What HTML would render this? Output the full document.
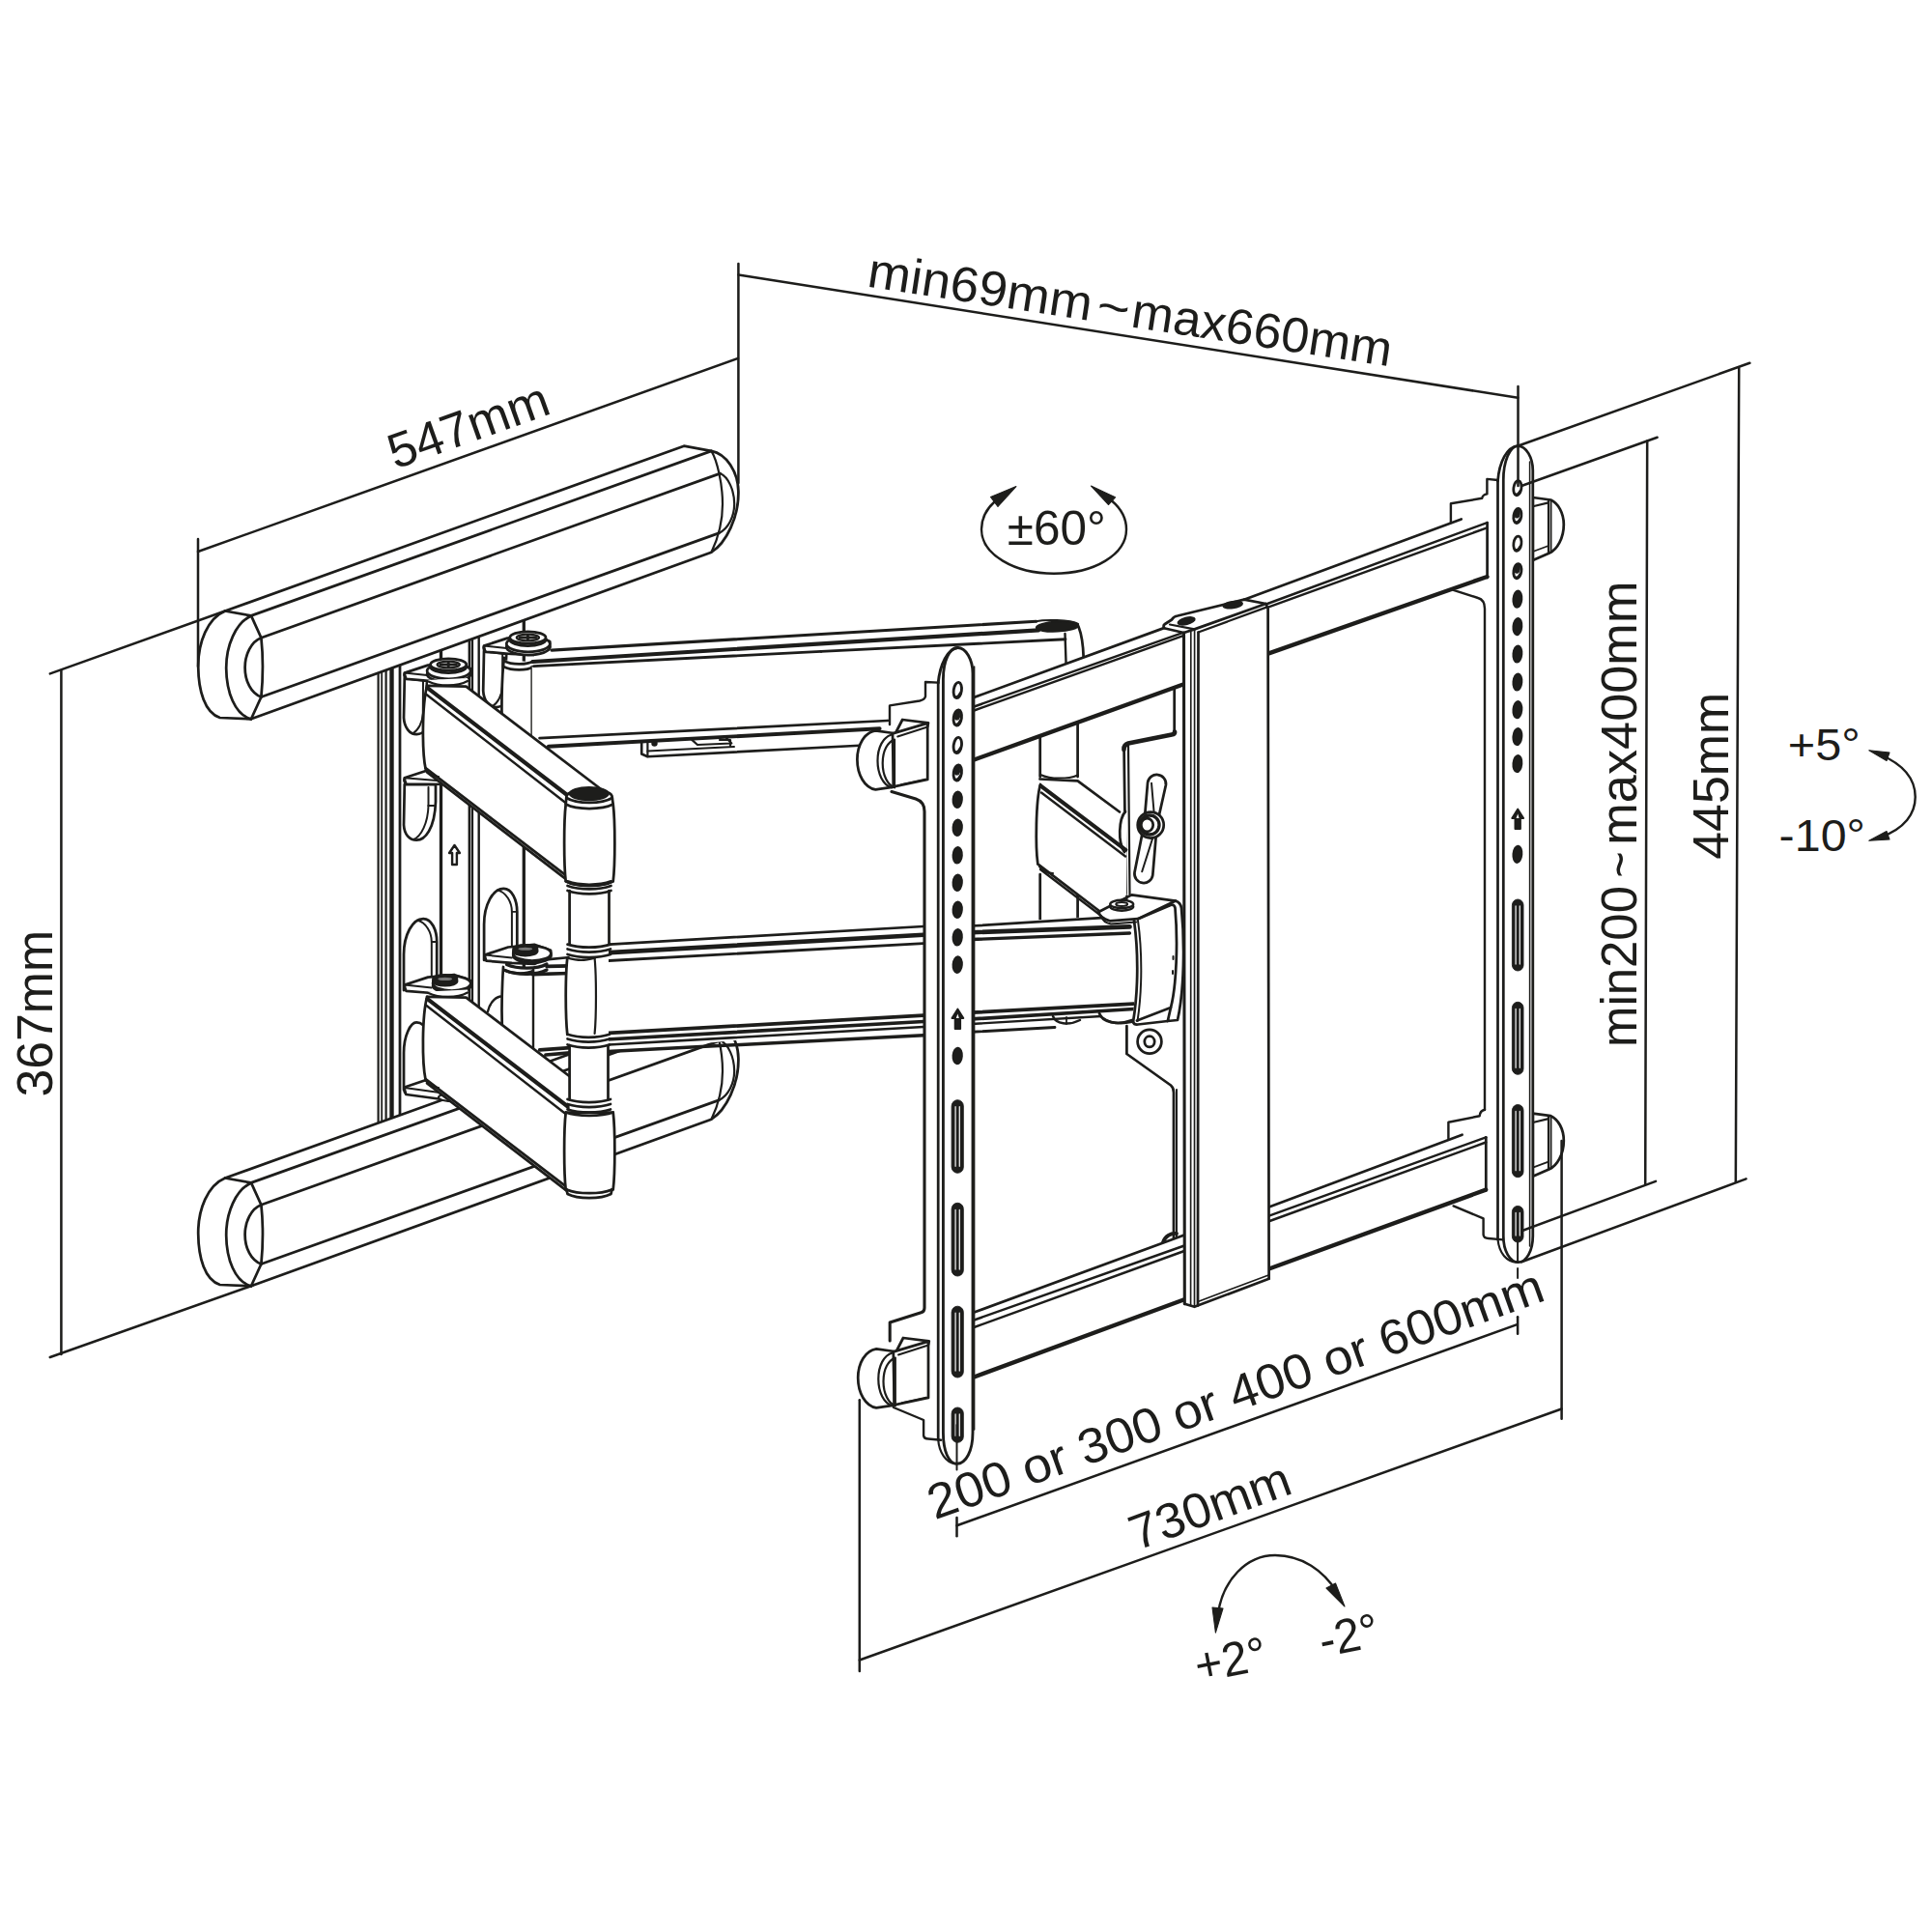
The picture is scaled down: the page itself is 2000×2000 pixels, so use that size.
<!DOCTYPE html>
<html><head><meta charset="utf-8"><title>TV wall mount dimensions</title>
<style>
html,body{margin:0;padding:0;background:#fff;width:2000px;height:2000px;overflow:hidden;}
svg{display:block;font-family:"Liberation Sans",sans-serif;}
</style></head><body>
<svg width="2000" height="2000" viewBox="0 0 2000 2000" fill="none" stroke="#1d1d1b" stroke-linecap="round" stroke-linejoin="round">
<rect x="0" y="0" width="2000" height="2000" fill="#fff" stroke="none"/>
<text x="0" y="0" transform="translate(408.9,486.0) rotate(-19.70)" font-size="51" textLength="173.5" lengthAdjust="spacingAndGlyphs" stroke="none" fill="#1d1d1b">547mm</text>
<text x="0" y="0" transform="translate(896.6,296.6) rotate(8.69)" font-size="51" textLength="234.3" lengthAdjust="spacingAndGlyphs" stroke="none" fill="#1d1d1b">min69mm</text>
<text x="0" y="0" transform="translate(1133.5,332.8) rotate(8.69)" font-size="51" textLength="34.0" lengthAdjust="spacingAndGlyphs" stroke="none" fill="#1d1d1b">~</text>
<text x="0" y="0" transform="translate(1169.6,338.3) rotate(8.69)" font-size="51" textLength="272.0" lengthAdjust="spacingAndGlyphs" stroke="none" fill="#1d1d1b">max660mm</text>
<text x="0" y="0" transform="translate(53.6,1135.4) rotate(-90.00)" font-size="51" textLength="172.4" lengthAdjust="spacingAndGlyphs" stroke="none" fill="#1d1d1b">367mm</text>
<text x="0" y="0" transform="translate(1694.0,1084.0) rotate(-90.00)" font-size="51" textLength="167.0" lengthAdjust="spacingAndGlyphs" stroke="none" fill="#1d1d1b">min200</text>
<text x="0" y="0" transform="translate(1694.0,908.5) rotate(-90.00)" font-size="51" textLength="27.0" lengthAdjust="spacingAndGlyphs" stroke="none" fill="#1d1d1b">~</text>
<text x="0" y="0" transform="translate(1694.0,874.8) rotate(-90.00)" font-size="51" textLength="273.3" lengthAdjust="spacingAndGlyphs" stroke="none" fill="#1d1d1b">max400mm</text>
<text x="0" y="0" transform="translate(1788.6,889.8) rotate(-90.00)" font-size="51" textLength="173.0" lengthAdjust="spacingAndGlyphs" stroke="none" fill="#1d1d1b">445mm</text>
<text x="0" y="0" transform="translate(967.7,1573.5) rotate(-19.78)" font-size="51" textLength="673.7" lengthAdjust="spacingAndGlyphs" stroke="none" fill="#1d1d1b">200 or 300 or 400 or 600mm</text>
<text x="0" y="0" transform="translate(1176.8,1605.3) rotate(-20.20)" font-size="51" textLength="174.0" lengthAdjust="spacingAndGlyphs" stroke="none" fill="#1d1d1b">730mm</text>
<text x="0" y="0" transform="translate(1042.8,564.4) rotate(0.00)" font-size="50" textLength="102.0" lengthAdjust="spacingAndGlyphs" stroke="none" fill="#1d1d1b">±60°</text>
<text x="0" y="0" transform="translate(1850.7,787.0) rotate(0.00)" font-size="46" textLength="75.0" lengthAdjust="spacingAndGlyphs" stroke="none" fill="#1d1d1b">+5°</text>
<text x="0" y="0" transform="translate(1841.6,880.7) rotate(0.00)" font-size="46" textLength="89.3" lengthAdjust="spacingAndGlyphs" stroke="none" fill="#1d1d1b">-10°</text>
<text x="0" y="0" transform="translate(1240.6,1742.0) rotate(-11.00)" font-size="50" textLength="74.5" lengthAdjust="spacingAndGlyphs" stroke="none" fill="#1d1d1b">+2°</text>
<text x="0" y="0" transform="translate(1369.2,1715.8) rotate(-11.50)" font-size="50" textLength="62.0" lengthAdjust="spacingAndGlyphs" stroke="none" fill="#1d1d1b">-2°</text>
<path d="M1030,519 C1021,527 1016,537 1016,548 C1016,574 1050,593.7 1091,593.7 C1133,593.7 1166,574 1166,548 C1166,537 1161,527 1151,518.5" stroke-width="2.42" fill="none" />
<path d="M1051.9,503.6 L1025.5,514.5 L1033,524.5 Z" stroke-width="1.1" fill="#1d1d1b" />
<path d="M1129.5,503.1 L1154.5,514.8 L1147.6,522.5 Z" stroke-width="1.1" fill="#1d1d1b" />
<path d="M1946,781 C1972,792 1982.7,808 1982.7,825 C1982.7,842 1972,858 1946,867" stroke-width="2.42" fill="none" />
<path d="M1934.8,776.7 L1956,779 L1953,787.5 Z" stroke-width="1.1" fill="#1d1d1b" />
<path d="M1934.8,870.3 L1953,860.5 L1956,869 Z" stroke-width="1.1" fill="#1d1d1b" />
<path d="M1261,1670 C1266,1636 1290,1610 1320,1610 C1348,1610 1370,1626 1384,1648" stroke-width="2.42" fill="none" />
<path d="M1258.4,1690.2 L1255,1664 L1266,1665 Z" stroke-width="1.1" fill="#1d1d1b" />
<path d="M1392,1663 L1373,1644 L1382.5,1639 Z" stroke-width="1.1" fill="#1d1d1b" />
<g id="wallplate">
<path d="M391.6,696.7 L543,641.9 L543,1108.5 L391.6,1162.7 Z" stroke-width="0.0" fill="#fff" />
<path d="M391.6,696.7L391.6,1162.7" stroke-width="2.2" />
<path d="M395.2,695.4L395.2,1161.4" stroke-width="1.76" />
<path d="M399.6,693.8L399.6,1159.9" stroke-width="2.2" />
<path d="M405.5,691.6L405.5,1157.7" stroke-width="4.4" />
<path d="M414.0,688.6L414.0,1154.7" stroke-width="2.75" />
<path d="M456.5,673.2L456.5,1139.5" stroke-width="3.3" />
<path d="M485.8,662.6L485.8,1129.0" stroke-width="2.42" />
<path d="M488.9,661.4L488.9,1127.9" stroke-width="2.42" />
<path d="M495.7,659.0L495.7,1125.5" stroke-width="2.42" />
<path d="M542.3,642.1L542.3,1108.8" stroke-width="3.3" />
<path d="M470.5,875 l5.4,8 l-3,0 l0,12 l-4.8,0 l0,-12 l-3,0 Z" stroke-width="2.42" fill="none" />
</g>
<g transform="translate(0,587)">
<path d="M233,632.5 L708,461.7 L736.4,466.9 C752,470 764,488 764.4,508.8 C764.8,535 752,562 736.4,571.7 L260,744.3 L227.7,743 C212,738 205.4,715 205.2,690 C205,665 215,640 233,632.5 Z" stroke-width="2.75" fill="#fff" />
<path d="M233,632.5 L260,637.4" stroke-width="2.75" fill="none" />
<path d="M260,637.4 C244,645 234,668 234.2,692 C234.4,716 243,740 260,744.3" stroke-width="2.75" fill="none" />
<path d="M270.4,660.2 C260,664 253.6,678 253.6,691 C253.6,705 260,718 270.4,721.5" stroke-width="2.75" fill="none" />
<path d="M260,637.4 L270.4,660.2 Q273.5,690 270.4,721.5 L260,744.3" stroke-width="2.75" fill="none" />
<path d="M260.0,637.4L736.4,466.9" stroke-width="2.75" />
<path d="M270.4,660.2L745.5,490.1" stroke-width="2.75" />
<path d="M270.4,721.5L744.2,551.9" stroke-width="2.75" />
<path d="M736.4,466.9 C742,476 748,500 748,521.7 C748,542 742,560 736.4,571.7" stroke-width="2.2" fill="none" />
<path d="M745.5,490.1 C754,494 760,507 760.2,521.7 C760,535 754,547 744.2,551.9" stroke-width="2.2" fill="none" />
</g>
<g transform="translate(0,0)">
<path d="M233,632.5 L708,461.7 L736.4,466.9 C752,470 764,488 764.4,508.8 C764.8,535 752,562 736.4,571.7 L260,744.3 L227.7,743 C212,738 205.4,715 205.2,690 C205,665 215,640 233,632.5 Z" stroke-width="2.75" fill="#fff" />
<path d="M233,632.5 L260,637.4" stroke-width="2.75" fill="none" />
<path d="M260,637.4 C244,645 234,668 234.2,692 C234.4,716 243,740 260,744.3" stroke-width="2.75" fill="none" />
<path d="M270.4,660.2 C260,664 253.6,678 253.6,691 C253.6,705 260,718 270.4,721.5" stroke-width="2.75" fill="none" />
<path d="M260,637.4 L270.4,660.2 Q273.5,690 270.4,721.5 L260,744.3" stroke-width="2.75" fill="none" />
<path d="M260.0,637.4L736.4,466.9" stroke-width="2.75" />
<path d="M270.4,660.2L745.5,490.1" stroke-width="2.75" />
<path d="M270.4,721.5L744.2,551.9" stroke-width="2.75" />
<path d="M736.4,466.9 C742,476 748,500 748,521.7 C748,542 742,560 736.4,571.7" stroke-width="2.2" fill="none" />
<path d="M745.5,490.1 C754,494 760,507 760.2,521.7 C760,535 754,547 744.2,551.9" stroke-width="2.2" fill="none" />
</g>
<g id="arms">
<g transform="translate(82.2,-28.0)">
<path d="M418.8,702 L418,743 C418.5,753 424,760.2 431.2,760.2 C435,760 438,758.5 440,756 L442,705 Z" stroke-width="2.75" fill="#fff" />
<path d="M427,759.5 C433,756 437.5,748 437.8,738 L438,705" stroke-width="1.98" fill="none" />
<path d="M418.8,696.6 L443,688.6 L470,686 L487,692 L487,698 L470,706 L446.8,705 L420.5,702.8 Q417.5,700 418.8,696.6 Z" stroke-width="2.75" fill="#fff" />
<path d="M420.5,702.8 L418.8,696.6 L446.8,699.5" stroke-width="1.98" fill="none" />
<ellipse cx="464.6" cy="697.8" rx="22.5" ry="8.2" stroke-width="2.75" fill="#fff"/>
<ellipse cx="464.6" cy="694.6" rx="22.5" ry="8.2" stroke-width="2.75" fill="#fff"/>
<ellipse cx="464.2" cy="690.3" rx="18.6" ry="6.2" stroke-width="2.75" fill="#fff"/>
<ellipse cx="464.2" cy="688.0" rx="18.6" ry="6.2" stroke-width="2.75" fill="#fff"/>
<ellipse cx="464.2" cy="688.0" rx="11.5" ry="3.4" stroke-width="2.42" fill="none"/>
<path d="M456,688 l16.5,0 M464.2,685.4 l0,5.2" stroke-width="2.86" fill="none" />
</g>
<path d="M520.5,683.4 C518.5,700 518.5,745 520.5,760 L550.8,770 L550.8,685 Z" stroke-width="0.0" fill="#fff" />
<path d="M522,681 C519,700 518.8,745 520.5,762" stroke-width="2.75" fill="none" />
<path d="M550.8,690 L550.8,770" stroke-width="2.75" fill="none" />
<path d="M521.5,684 C530,688.5 545,688.5 552,684.5" stroke-width="2.75" fill="none" />
<path d="M521,690 C530,694.5 545,694.5 552.5,690" stroke-width="2.75" fill="none" />
<path d="M550.8,686 L571,673.1 L1072.6,643.3 L1116.6,650 L1121.7,679.4 L1121.7,700 L910.6,756 L567.9,774.5 L550.8,775 Z" stroke-width="0.0" fill="#fff" />
<path d="M571.0,673.1L1072.6,643.3" stroke-width="3.08" />
<path d="M551.5,685.0L1075.0,652.4" stroke-width="4.18" />
<path d="M552.4,689.6L850.0,674.4" stroke-width="2.86" />
<path d="M850.0,674.4L1103.0,661.8" stroke-width="2.86" />
<ellipse cx="1094.6" cy="648.6" rx="22.0" ry="5.2" stroke-width="1.65" fill="#1d1d1b" transform="rotate(-3 1094.6 648.6)"/>
<path d="M1072.6,643.3 C1080,641.5 1108,641 1116,646" stroke-width="2.2" fill="none" />
<path d="M1116.6,649 C1119,655 1121.3,668 1121.7,681" stroke-width="2.75" fill="none" />
<path d="M1102.5,656 L1103.6,688" stroke-width="2.42" fill="none" />
<path d="M558.6,764.1L918.8,746.0" stroke-width="2.75" />
<path d="M567.9,772.7L910.6,754.2" stroke-width="3.96" />
<path d="M664.2,768 L664.2,780.5 L670.4,783.2 L889.9,771.8" stroke-width="2.64" fill="none" />
<path d="M670.4,768 L670.4,783.2" stroke-width="2.2" fill="none" />
<path d="M670.4,777.6 L760,773" stroke-width="1.98" fill="none" />
<path d="M716,765.6 L722,771 L757.3,769.5 L752,764" stroke-width="2.2" fill="none" />
<ellipse cx="677.5" cy="769.5" rx="2.4" ry="2.4" stroke-width="1.65" fill="#1d1d1b"/>
<path d="M745,766 L756,766 L756,772" stroke-width="2.2" fill="none" />
<g transform="translate(83.1,291.9)">
<path d="M418,702 L418,665 C418,645 427,628 438.2,628 C447,628 452.2,640 452.2,652 L452.2,690 Z" stroke-width="2.75" fill="#fff" />
<path d="M432,629.5 C441,632 446.8,642 446.8,652 L446.8,688" stroke-width="1.98" fill="none" />
<path d="M446.8,652.0L452.2,652.0" stroke-width="1.76" />
<path d="M418.8,696.6 L443,688.6 L470,686 L487,692 L487,698 L470,706 L446.8,705 L420.5,702.8 Q417.5,700 418.8,696.6 Z" stroke-width="2.75" fill="#fff" />
<path d="M420.5,702.8 L418.8,696.6 L446.8,699.5" stroke-width="1.98" fill="none" />
<ellipse cx="467.7" cy="697.2" rx="19.6" ry="7.6" stroke-width="2.75" fill="#fff"/>
<ellipse cx="467.7" cy="695.0" rx="19.6" ry="7.6" stroke-width="2.75" fill="#fff"/>
<ellipse cx="460.7" cy="692.6" rx="12.4" ry="4.6" stroke-width="2.75" fill="#1d1d1b"/>
<ellipse cx="460.7" cy="690.6" rx="12.4" ry="4.4" stroke-width="2.42" fill="#1d1d1b"/>
<ellipse cx="460.7" cy="690.4" rx="8.0" ry="2.2" stroke-width="1.32" fill="#777"/>
</g>
<path d="M520.5,1001 L520.5,1095 L551,1095 L551,1001 Z" stroke-width="0.0" fill="#fff" />
<path d="M521,1001 C519,1030 519.5,1070 521,1095" stroke-width="2.75" fill="none" />
<path d="M552,1003 L552,1095" stroke-width="2.42" fill="none" />
<path d="M521.5,1004 C530,1008.5 545,1008.5 552,1005" stroke-width="2.75" fill="none" />
<path d="M568.0,993.1L590.0,991.0" stroke-width="2.75" />
<path d="M566.0,1000.4L590.0,999.8" stroke-width="3.74" />
<path d="M551.4,1008.7L590.0,1007.5" stroke-width="3.74" />
<path d="M558.7,1086.8L590.0,1084.7" stroke-width="3.74" />
<path d="M564.9,1092.0L590.0,1089.9" stroke-width="3.74" />
<path d="M524.5,998.5 C536,1003.5 556,1003.5 566,998" stroke-width="3.3" fill="none" />
<path d="M523,1004.5 C536,1010 556,1009.5 566,1004" stroke-width="3.3" fill="none" />
<path d="M518,1031.5 C511,1033 506.5,1040 505,1047" stroke-width="2.42" fill="none" />
<path d="M1076.7,750 L1076.7,952 L1115.6,952 L1115.6,750 Z" stroke-width="0.0" fill="#fff" />
<path d="M1076.7,760.0L1076.7,804.0" stroke-width="2.75" />
<path d="M1115.6,748.0L1115.6,804.0" stroke-width="2.75" />
<path d="M1077,802 C1088,807 1105,807 1115.6,802.5" stroke-width="2.42" fill="none" />
<path d="M1076.7,905.0L1076.7,952.0" stroke-width="2.75" />
<path d="M1115.6,920.0L1115.6,950.0" stroke-width="2.75" />
<path d="M1215.7,708 L1215.7,758.6 L1163.7,768.7 L1166.4,927.4 L1215.7,935 L1226,935 L1226,706 Z" stroke-width="0.0" fill="#fff" />
<path d="M1215.7,712.0L1215.7,757.0" stroke-width="2.75" />
<path d="M1216,757.5 Q1216.5,760 1213,760.5 L1168,769.5 Q1163.2,771 1163.5,776" stroke-width="4.62" fill="none" />
<path d="M1163.6,776 L1165.5,925" stroke-width="2.75" fill="none" />
<path d="M1168,771 L1169.5,926" stroke-width="2.2" fill="none" />
<path d="M1076.3,813.6 C1071.5,830 1071.5,880 1074.2,894.3 L1140.5,945 L1166,945 L1166,842 L1115.6,806 L1080,806 Z" stroke-width="0.0" fill="#fff" />
<path d="M1077,812 C1072,830 1072,878 1074.2,893" stroke-width="2.75" fill="none" />
<path d="M1076.5,806.5 L1115.6,808.4 L1159,840.5" stroke-width="2.75" fill="none" />
<path d="M1077.5,813.6 L1165.3,879.8" stroke-width="4.18" fill="none" />
<path d="M1078,820.5 L1165,886.5" stroke-width="2.42" fill="none" />
<path d="M1074.2,894.3 L1140.5,945" stroke-width="2.75" fill="none" />
<path d="M1077,900 L1138,946.5" stroke-width="2.42" fill="none" />
<path d="M1076,897 C1080,902 1086,904 1090,904" stroke-width="2.2" fill="none" />
<path d="M1165,840 C1158,848 1157,872 1164,882" stroke-width="2.75" fill="none" />
<g transform="rotate(8 1191 854)">
<path d="M1182,811 a9.5,9.5 0 0 1 19,0 L1198,848 L1184,848 Z" stroke-width="2.75" fill="#fff" />
<path d="M1184,860 L1198,860 L1200.5,905 a9.5,9.5 0 0 1 -19,0 Z" stroke-width="2.75" fill="#fff" />
<path d="M1186,811 L1194,846" stroke-width="1.98" fill="none" />
<path d="M1196,862 L1189,903" stroke-width="1.98" fill="none" />
</g>
<ellipse cx="1191.2" cy="854.0" rx="13.5" ry="13.5" stroke-width="2.75" fill="#fff"/>
<ellipse cx="1190.0" cy="854.0" rx="10.0" ry="10.0" stroke-width="3.3" fill="#fff"/>
<ellipse cx="1187.5" cy="854.0" rx="6.2" ry="6.8" stroke-width="2.75" fill="#fff"/>
<path d="M1166.4,1060 L1166.4,1091 L1215,1125.3 L1215,1283.6 L1226,1283 L1226,1050 Z" stroke-width="0.0" fill="#fff" />
<path d="M1166.4,1062 L1166.4,1091 L1212,1123.5 Q1215,1126 1215,1131 L1215,1283.6" stroke-width="2.75" fill="none" />
<path d="M1218.0,1128.0L1218.0,1282.0" stroke-width="1.98" />
<ellipse cx="1190.0" cy="1078.3" rx="12.4" ry="12.4" stroke-width="2.75" fill="#fff"/>
<ellipse cx="1190.0" cy="1078.3" rx="5.2" ry="5.6" stroke-width="2.75" fill="#fff"/>
<path d="M1204,1286 C1206,1280 1212,1276 1218,1277" stroke-width="3.85" fill="none" />
<path d="M418.8,812 L418,854 C418.5,864 424,869.7 431.2,869.7 C440,869.7 450,858 451,830 L451,812 Z" stroke-width="2.75" fill="#fff" />
<path d="M428,869 C436,866 443,852 443.5,834" stroke-width="1.98" fill="none" />
<path d="M443.5,834.0L451.0,834.0" stroke-width="1.76" />
<path d="M443.5,815.0L443.5,834.0" stroke-width="1.98" />
<path d="M418.8,805.3 L447,796 L470,803 L470,812 L420.5,811.5 Q417.5,809 418.8,805.3 Z" stroke-width="2.75" fill="#fff" />
<path d="M420.5,811.5 L418.8,805.3 L452,808 L470,812" stroke-width="1.98" fill="none" />
<path d="M418,1128 L418,1090 C418,1072 425,1058.4 431.2,1058.4 C436,1058.4 440,1062 442,1068 L442,1125 Z" stroke-width="2.75" fill="#fff" />
<path d="M418.8,1125.5 L447,1116 L480,1127 L520,1136 L480,1141 L420.5,1133 Q417.5,1130 418.8,1125.5 Z" stroke-width="2.75" fill="#fff" />
<path d="M420.5,1133 L418.8,1126 L455,1131" stroke-width="1.98" fill="none" />
<ellipse cx="470.0" cy="1136.0" rx="16.0" ry="4.2" stroke-width="2.2" fill="#fff"/>
<g transform="translate(0.0,0.0)">
<path d="M418.8,702 L418,743 C418.5,753 424,760.2 431.2,760.2 C435,760 438,758.5 440,756 L442,705 Z" stroke-width="2.75" fill="#fff" />
<path d="M427,759.5 C433,756 437.5,748 437.8,738 L438,705" stroke-width="1.98" fill="none" />
<path d="M418.8,696.6 L443,688.6 L470,686 L487,692 L487,698 L470,706 L446.8,705 L420.5,702.8 Q417.5,700 418.8,696.6 Z" stroke-width="2.75" fill="#fff" />
<path d="M420.5,702.8 L418.8,696.6 L446.8,699.5" stroke-width="1.98" fill="none" />
<ellipse cx="464.6" cy="697.8" rx="22.5" ry="8.2" stroke-width="2.75" fill="#fff"/>
<ellipse cx="464.6" cy="694.6" rx="22.5" ry="8.2" stroke-width="2.75" fill="#fff"/>
<ellipse cx="464.2" cy="690.3" rx="18.6" ry="6.2" stroke-width="2.75" fill="#fff"/>
<ellipse cx="464.2" cy="688.0" rx="18.6" ry="6.2" stroke-width="2.75" fill="#fff"/>
<ellipse cx="464.2" cy="688.0" rx="11.5" ry="3.4" stroke-width="2.42" fill="none"/>
<path d="M456,688 l16.5,0 M464.2,685.4 l0,5.2" stroke-width="2.86" fill="none" />
</g>
<g transform="translate(0.0,323.0)">
<path d="M418,702 L418,665 C418,645 427,628 438.2,628 C447,628 452.2,640 452.2,652 L452.2,690 Z" stroke-width="2.75" fill="#fff" />
<path d="M432,629.5 C441,632 446.8,642 446.8,652 L446.8,688" stroke-width="1.98" fill="none" />
<path d="M446.8,652.0L452.2,652.0" stroke-width="1.76" />
<path d="M418.8,696.6 L443,688.6 L470,686 L487,692 L487,698 L470,706 L446.8,705 L420.5,702.8 Q417.5,700 418.8,696.6 Z" stroke-width="2.75" fill="#fff" />
<path d="M420.5,702.8 L418.8,696.6 L446.8,699.5" stroke-width="1.98" fill="none" />
<ellipse cx="467.7" cy="697.2" rx="19.6" ry="7.6" stroke-width="2.75" fill="#fff"/>
<ellipse cx="467.7" cy="695.0" rx="19.6" ry="7.6" stroke-width="2.75" fill="#fff"/>
<ellipse cx="460.7" cy="692.6" rx="12.4" ry="4.6" stroke-width="2.75" fill="#1d1d1b"/>
<ellipse cx="460.7" cy="690.6" rx="12.4" ry="4.4" stroke-width="2.42" fill="#1d1d1b"/>
<ellipse cx="460.7" cy="690.4" rx="8.0" ry="2.2" stroke-width="1.32" fill="#777"/>
</g>
<path d="M443,704 L443,712 L484,712 L484,702 Z" stroke-width="0.0" fill="#fff" />
<path d="M443.5,705.5 C455,711 473,711 484,705" stroke-width="2.42" fill="none" />
<path d="M443,1026.5 L443,1034.5 L484,1034.5 L484,1024.5 Z" stroke-width="0.0" fill="#fff" />
<path d="M443.5,1028.0 C455,1033.5 473,1033.5 484,1027.5" stroke-width="2.42" fill="none" />
<path d="M616,993 L631,977.6 L1140.5,948.5 L1173.6,951 L1173.6,1040 L629,1089 L616,1072 Z" stroke-width="0.0" fill="#fff" />
<path d="M631.0,977.6L956.0,959.0" stroke-width="2.75" />
<path d="M1006.0,958.5L1140.5,950.2" stroke-width="2.75" />
<path d="M622.0,986.6L956.0,967.7" stroke-width="4.62" />
<path d="M1006.0,965.2L1169.5,959.4" stroke-width="4.62" />
<path d="M616.6,995.2L956.0,976.6" stroke-width="2.86" />
<path d="M1006.0,972.5L1169.5,966.0" stroke-width="3.3" />
<path d="M616.6,1070.2L956.0,1051.1" stroke-width="3.74" />
<path d="M1006.0,1048.2L1173.6,1039.2" stroke-width="3.74" />
<path d="M628.0,1076.0L956.0,1057.5" stroke-width="3.74" />
<path d="M630.0,1081.5L956.0,1063.0" stroke-width="2.64" />
<path d="M1006.0,1054.9L1173.6,1044.5" stroke-width="3.74" />
<path d="M1006.0,1060.0L1140.0,1052.0" stroke-width="2.42" />
<path d="M629.0,1088.5L956.0,1071.8" stroke-width="3.52" />
<path d="M1090,1052 C1093,1060 1106,1062 1118,1056" stroke-width="2.42" fill="none" />
<path d="M1104.0,1053.0L1104.0,1060.0" stroke-width="1.76" />
<path d="M1138,1049 C1141,1058 1156,1062 1172,1056" stroke-width="2.75" fill="none" />
<path d="M1142,1054 C1150,1060 1162,1060 1172,1058" stroke-width="2.2" fill="none" />
<path d="M1006.0,1068.3L1092.0,1063.5" stroke-width="2.86" />
<path d="M1173.6,951 C1177,990 1177,1020 1172,1057 L1208.8,1057 L1219,1056 C1224,1020 1225,960 1217,932.6 L1174.6,951 Z" stroke-width="0.0" fill="#fff" />
<path d="M1137.4,944 L1171.5,926.4 L1217,932.6 L1178,951.2 L1148.8,953.3 Q1138,950 1137.4,944 Z" stroke-width="2.75" fill="#fff" />
<path d="M1140,948.5 Q1142,955 1150,956.5 L1176,954.5" stroke-width="2.2" fill="none" />
<ellipse cx="1161.2" cy="938.5" rx="12.0" ry="4.2" stroke-width="2.42" fill="#fff"/>
<ellipse cx="1161.2" cy="936.0" rx="12.0" ry="4.2" stroke-width="2.42" fill="#fff"/>
<ellipse cx="1161.2" cy="936.0" rx="6.0" ry="2.0" stroke-width="1.98" fill="none"/>
<path d="M1166.4,927.4 L1166.4,931" stroke-width="2.2" fill="none" />
<path d="M1174,953 C1178.5,985 1178.5,1025 1173,1058" stroke-width="2.75" fill="none" />
<path d="M1178,953 C1182.5,985 1182.5,1025 1177.5,1057" stroke-width="1.98" fill="none" />
<path d="M1178,951.2 L1213,936.5 Q1216,936.5 1216.5,940 C1219.5,975 1218,1020 1212,1043 L1177,1056.5" stroke-width="2.75" fill="none" />
<path d="M1217,932.6 Q1222,934 1223,940 C1226.5,975 1226,1025 1219,1056 L1208.8,1057 L1212,1043" stroke-width="2.75" fill="none" />
<path d="M1173,1058 Q1174,1061 1178,1060.5 L1208.8,1057" stroke-width="2.75" fill="none" />
<path d="M1214.5,990 l0,3 M1214,1005 l0,3" stroke-width="1.98" fill="none" />
<g transform="translate(0,322)">
<path d="M442.1,709.8 L482.5,710.6 L622.2,817 L590.4,825.5 L588.9,912.4 L442.1,799 C437,780 437,730 442.1,709.8 Z" stroke-width="0.0" fill="#fff" />
<path d="M442.1,709.8 L482.5,710.6 L622.2,817" stroke-width="2.75" fill="none" />
<path d="M442.5,712.1 L590.4,825.5" stroke-width="4.18" fill="none" />
<path d="M441.5,719 L588,833" stroke-width="2.42" fill="none" />
<path d="M442.1,709.8 C436.8,730 436.8,778 440.6,796" stroke-width="2.75" fill="none" />
<path d="M440.6,795.2 L588,907.8" stroke-width="2.75" fill="none" />
<path d="M442.1,799.5 L588.9,912.4" stroke-width="2.75" fill="none" />
<path d="M441,797 C444,802 449,804 454,804" stroke-width="2.2" fill="none" />
</g>
<path d="M589.6,915 L589.6,1150 L630,1150 L630,915 Z" stroke-width="0.0" fill="#fff" />
<path d="M589.6,922.0L589.6,977.6" stroke-width="2.75" />
<path d="M630.5,922.0L630.5,977.6" stroke-width="2.75" />
<path d="M589.6,1082.0L589.6,1138.0" stroke-width="2.75" />
<path d="M629.5,1082.0L629.5,1138.0" stroke-width="2.75" />
<path d="M587.3,991.6 C585.5,1010 585.5,1052 587.3,1070.8 L616,1070.8 L616,991.6 Z" stroke-width="0.0" fill="#fff" />
<path d="M587.3,991.6 C585.2,1010 585.2,1052 587.3,1070.8" stroke-width="2.75" fill="none" />
<path d="M615.6,992 C617.4,1010 617.4,1052 615.6,1070" stroke-width="2.2" fill="none" />
<path d="M587.5,977.6 C599.5,981.6 620,981.6 632,977.6" stroke-width="2.75" fill="none" />
<path d="M587.5,982.5 C599.5,986.5 620,986.5 632,982.5" stroke-width="2.75" fill="none" />
<path d="M587.5,988 C599.5,992 620,992 632,988" stroke-width="2.75" fill="none" />
<path d="M587.3,991.6 C599.3,994.6 604,994.6 616,991.6" stroke-width="2.2" fill="none" />
<path d="M587.5,1070.8 C599.5,1074.8 619,1074.8 631,1070.8" stroke-width="2.75" fill="none" />
<path d="M587.5,1075.5 C599.5,1079.5 619,1079.5 631,1075.5" stroke-width="2.75" fill="none" />
<path d="M587.5,1081.5 C599.5,1085.5 619,1085.5 631,1081.5" stroke-width="2.75" fill="none" />
<g transform="translate(0,319)">
<path d="M585.7,832.5 C583.6,850 583.6,895 585.7,912.4 C597,918.5 623,918.5 634.7,912.4 C636.9,895 636.9,850 634.7,832.5 Z" stroke-width="2.75" fill="#fff" />
<path d="M585.7,912.4 C597,918.5 623,918.5 634.7,912.4" stroke-width="2.75" fill="none" />
</g>
<path d="M587.5,1138 C599.5,1142 620,1142 632,1138" stroke-width="2.75" fill="none" />
<path d="M587.5,1143 C599.5,1147 620,1147 632,1143" stroke-width="2.75" fill="none" />
<path d="M587.5,1148.5 C599.5,1152.5 620,1152.5 632,1148.5" stroke-width="2.75" fill="none" />
<path d="M586.5,1231.4 L587.5,1236 C598,1241.5 622,1241.5 632.5,1236 L633.5,1231.4" stroke-width="2.75" fill="#fff" />
<path d="M586.5,1231.4 C598.5,1236.4 621.5,1236.4 633.5,1231.4" stroke-width="2.75" fill="none" />
<path d="M585.7,1151.5 C597,1156 623,1156 634.7,1151.5" stroke-width="2.75" fill="none" />
<g transform="translate(0,0)">
<path d="M442.1,709.8 L482.5,710.6 L622.2,817 L590.4,825.5 L588.9,912.4 L442.1,799 C437,780 437,730 442.1,709.8 Z" stroke-width="0.0" fill="#fff" />
<path d="M442.1,709.8 L482.5,710.6 L622.2,817" stroke-width="2.75" fill="none" />
<path d="M442.5,712.1 L590.4,825.5" stroke-width="4.18" fill="none" />
<path d="M441.5,719 L588,833" stroke-width="2.42" fill="none" />
<path d="M442.1,709.8 C436.8,730 436.8,778 440.6,796" stroke-width="2.75" fill="none" />
<path d="M440.6,795.2 L588,907.8" stroke-width="2.75" fill="none" />
<path d="M442.1,799.5 L588.9,912.4" stroke-width="2.75" fill="none" />
<path d="M441,797 C444,802 449,804 454,804" stroke-width="2.2" fill="none" />
</g>
<g transform="translate(0,0)">
<path d="M585.7,832.5 C583.6,850 583.6,895 585.7,912.4 C597,918.5 623,918.5 634.7,912.4 C636.9,895 636.9,850 634.7,832.5 Z" stroke-width="2.75" fill="#fff" />
<path d="M585.7,912.4 C597,918.5 623,918.5 634.7,912.4" stroke-width="2.75" fill="none" />
</g>
<path d="M585.7,832.5 L586.5,824 C590,815 630,815 633.5,824 L634.7,832.5 C623,838.5 597,838.5 585.7,832.5 Z" stroke-width="2.75" fill="#fff" />
<path d="M586.5,826 C597,832.5 623,832.5 633.8,826" stroke-width="2.75" fill="none" />
<ellipse cx="609.8" cy="821.6" rx="20.2" ry="6.8" stroke-width="1.65" fill="#1d1d1b"/>
<path d="M587.5,912.4 C599.5,916.9 620.5,916.9 632.5,912.4" stroke-width="2.75" fill="none" />
<path d="M587.5,917 C599.5,921.5 620.5,921.5 632.5,917" stroke-width="2.75" fill="none" />
<path d="M587.5,922 C599.5,926.5 620.5,926.5 632.5,922" stroke-width="2.75" fill="none" />
</g>
<g id="frame">
<g transform="translate(0,0)">
<path d="M1586.8,515 L1605.4,517.5 C1613,521 1618.8,531 1618.8,543 C1618.8,557 1612,569 1604,572.5 L1586.8,580 Z" stroke-width="2.75" fill="#fff" />
<path d="M1603,518 L1603,572.5" stroke-width="2.2" fill="none" />
<path d="M1605.6,518.5 L1605.6,572" stroke-width="1.76" fill="none" />
<path d="M1586.8,524.3 L1603,520.4" stroke-width="2.2" fill="none" />
<path d="M1586.8,571 L1603,565" stroke-width="1.76" fill="none" />
</g>
<g transform="translate(0,637.7)">
<path d="M1586.8,515 L1605.4,517.5 C1613,521 1618.8,531 1618.8,543 C1618.8,557 1612,569 1604,572.5 L1586.8,580 Z" stroke-width="2.75" fill="#fff" />
<path d="M1603,518 L1603,572.5" stroke-width="2.2" fill="none" />
<path d="M1605.6,518.5 L1605.6,572" stroke-width="1.76" fill="none" />
<path d="M1586.8,524.3 L1603,520.4" stroke-width="2.2" fill="none" />
<path d="M1586.8,571 L1603,565" stroke-width="1.76" fill="none" />
</g>
<path d="M1287.9,620.7 L1512.7,537 L1539.4,541.1 L1539.5,597 L1313.5,676.3 L1312,625 Z" stroke-width="0.0" fill="#fff" />
<path d="M1287.9,620.7L1512.7,537.5" stroke-width="2.75" />
<path d="M1312.0,625.0L1539.4,541.1" stroke-width="2.42" />
<path d="M1312.0,628.9L1539.4,546.3" stroke-width="2.42" />
<path d="M1313.5,676.3L1539.5,597.0" stroke-width="4.4" />
<path d="M1539.6,541.1L1539.6,598.0" stroke-width="2.75" />
<path d="M1007,722.8 L1205.6,649.9 L1225.5,654.7 L1225.5,708.2 L1007,787 Z" stroke-width="0.0" fill="#fff" />
<path d="M1007.0,722.4L1205.6,649.9" stroke-width="2.75" />
<path d="M1007.0,732.0L1225.5,654.7" stroke-width="2.42" />
<path d="M1007.0,736.0L1225.5,657.8" stroke-width="2.42" />
<path d="M1007.0,787.0L1225.5,708.2" stroke-width="4.4" />
<path d="M1313,1249.7 L1513.6,1174.7 L1538.2,1177.3 L1538.2,1231.6 L1313,1313.7 Z" stroke-width="0.0" fill="#fff" />
<path d="M1313.0,1249.7L1513.6,1174.7" stroke-width="2.75" />
<path d="M1313.0,1258.8L1538.2,1177.3" stroke-width="2.42" />
<path d="M1313.0,1264.5L1538.2,1182.5" stroke-width="2.42" />
<path d="M1313.0,1313.7L1538.2,1231.6" stroke-width="4.4" />
<path d="M1538.3,1177.3L1538.3,1232.5" stroke-width="2.75" />
<path d="M1007,1359 L1226,1278.5 L1226,1345.2 L1007,1426 Z" stroke-width="0.0" fill="#fff" />
<path d="M1007.0,1359.0L1226.0,1278.5" stroke-width="2.75" />
<path d="M1007.0,1367.0L1226.0,1289.5" stroke-width="2.42" />
<path d="M1007.0,1374.5L1226.0,1295.0" stroke-width="2.42" />
<path d="M1007.0,1426.0L1226.0,1345.2" stroke-width="4.4" />
<path d="M1225.5,655 L1225.5,1349.7 L1236.5,1352.8 L1313.6,1323.7 L1312.6,630 L1310.4,625 L1287.9,620.7 L1215.7,638.2 L1204.8,646.8 L1206,650.5 Z" stroke-width="0.0" fill="#fff" />
<path d="M1225.5,655 L1206,650.5 Q1203,648 1206,646 L1213,641.5 Q1215,638 1219,637.5 L1287.9,620.7 L1310.4,625 L1236.6,651.4 L1225.5,655" stroke-width="2.75" fill="#fff" />
<path d="M1211,646.5 L1236.6,651.4" stroke-width="2.2" fill="none" />
<path d="M1240.5,654.5 L1310.4,628.9" stroke-width="2.2" fill="none" />
<ellipse cx="1228.1" cy="642.9" rx="9.0" ry="3.4" stroke-width="1.65" fill="#1d1d1b" transform="rotate(-14 1228.1 642.9)"/>
<ellipse cx="1276.2" cy="626.1" rx="10.0" ry="3.4" stroke-width="1.65" fill="#1d1d1b" transform="rotate(-8 1276.2 626.1)"/>
<path d="M1225.5,655.0L1226.3,1349.7" stroke-width="3.08" />
<path d="M1232.8,654.0L1232.6,1351.5" stroke-width="1.65" />
<path d="M1236.6,652.0L1236.5,1352.8" stroke-width="1.65" />
<path d="M1240.5,654.5L1240.0,1351.5" stroke-width="2.75" />
<path d="M1310.4,625 L1312.6,630 L1313.6,1323.7" stroke-width="2.75" fill="none" />
<path d="M1226.3,1349.7 L1236.5,1352.8 L1313.6,1323.7" stroke-width="2.75" fill="none" />
<path d="M1240,1347.5 L1313.2,1320" stroke-width="1.65" fill="none" />
<path d="M1550.5,497 L1539.4,495.9 L1539.4,511.4 Q1535,512 1534.2,515.8 L1501.9,521.2 L1501.9,541.1" stroke-width="2.42" fill="none" />
<path d="M1504.6,610.8 L1530,619 Q1537,621 1537,630 L1537,1148.8 L1550.5,1148.8 L1550.5,608 Z" stroke-width="0.0" fill="#fff" />
<path d="M1504.6,610.8 L1530,619 Q1537,621 1537,630 L1537,1148.8" stroke-width="2.42" fill="none" />
<path d="M1537,1148.8 Q1532,1150 1531.7,1155.3 L1499.4,1161.7 L1499.4,1178.6" stroke-width="2.42" fill="none" />
<path d="M1504.6,1248.4 L1535.6,1261.4 L1535.6,1278.2 Q1536,1282 1540.8,1282 L1556,1283.4" stroke-width="2.42" fill="none" />
<path d="M1550.5,497.0L1550.5,1283.0" stroke-width="2.75" />
<path d="M1556.3,1279.5 L1556.3,496.7 C1556.3,478 1563,461.5 1571.3,461.5 C1580,461.5 1586.8,474 1586.8,487 L1586.8,1279.5 C1586.8,1295 1580,1306.7 1571.8,1306.7 C1563,1306.7 1556.3,1295 1556.3,1279.5 Z" stroke-width="2.75" fill="#fff" />
<path d="M1583.6,478.0L1583.6,1290.0" stroke-width="1.54" />
<path d="M1550.5,498 C1552,478 1560,462.5 1571.3,461.5" stroke-width="2.75" fill="none" />
<path d="M1550.5,1283 C1552,1298 1560,1306 1570,1306.7" stroke-width="2.2" fill="none" />
<ellipse cx="1570.9" cy="505.2" rx="4.0" ry="7.7" stroke-width="2.75" fill="none" transform="rotate(8 1570.9 505.2)"/>
<path d="M1568,511.2 q3,2 5.5,-3" stroke-width="2.42" fill="none" />
<ellipse cx="1570.9" cy="534.0" rx="4.0" ry="7.7" stroke-width="2.75" fill="none" transform="rotate(8 1570.9 534)"/>
<ellipse cx="1570.6" cy="531.8" rx="2.6" ry="4.2" stroke-width="1.1" fill="#1d1d1b" transform="rotate(8 1570.6 531.8)"/>
<path d="M1568,540.0 q3,2 5.5,-3" stroke-width="2.42" fill="none" />
<ellipse cx="1570.9" cy="562.7" rx="4.0" ry="7.7" stroke-width="2.75" fill="none" transform="rotate(8 1570.9 562.7)"/>
<path d="M1568,568.7 q3,2 5.5,-3" stroke-width="2.42" fill="none" />
<ellipse cx="1570.9" cy="591.2" rx="4.0" ry="7.7" stroke-width="2.75" fill="none" transform="rotate(8 1570.9 591.2)"/>
<ellipse cx="1570.6" cy="589.0" rx="2.6" ry="4.2" stroke-width="1.1" fill="#1d1d1b" transform="rotate(8 1570.6 589.0)"/>
<path d="M1568,597.2 q3,2 5.5,-3" stroke-width="2.42" fill="none" />
<ellipse cx="1570.9" cy="620.2" rx="4.6" ry="8.8" stroke-width="1.65" fill="#1d1d1b" transform="rotate(5 1570.9 620.2)"/>
<ellipse cx="1570.9" cy="648.6" rx="4.6" ry="8.8" stroke-width="1.65" fill="#1d1d1b" transform="rotate(5 1570.9 648.6)"/>
<ellipse cx="1570.9" cy="677.0" rx="4.6" ry="8.8" stroke-width="1.65" fill="#1d1d1b" transform="rotate(5 1570.9 677)"/>
<ellipse cx="1570.9" cy="706.0" rx="4.6" ry="8.8" stroke-width="1.65" fill="#1d1d1b" transform="rotate(5 1570.9 706)"/>
<ellipse cx="1570.9" cy="734.7" rx="4.6" ry="8.8" stroke-width="1.65" fill="#1d1d1b" transform="rotate(5 1570.9 734.7)"/>
<ellipse cx="1570.9" cy="762.5" rx="4.6" ry="8.8" stroke-width="1.65" fill="#1d1d1b" transform="rotate(5 1570.9 762.5)"/>
<ellipse cx="1570.9" cy="790.5" rx="4.6" ry="8.8" stroke-width="1.65" fill="#1d1d1b" transform="rotate(5 1570.9 790.5)"/>
<ellipse cx="1570.9" cy="884.3" rx="4.6" ry="8.8" stroke-width="1.65" fill="#1d1d1b" transform="rotate(5 1570.9 884.3)"/>
<path d="M1571.2,837.5 l6,9.5 l-3.2,0 l0,11 l-5.6,0 l0,-11 l-3.2,0 Z" stroke-width="1.76" fill="#1d1d1b" />
<path d="M1571.2,842.5 l-1.6,4.5 l3,0 Z" fill="#fff" stroke="none"/>
<path d="M1565.4,936.8 a5.8,5.8 0 0 1 11.6,0 L1577.0,999.2 a5.8,5.8 0 0 1 -11.6,0 Z" stroke-width="0.88" fill="#1d1d1b" />
<path d="M1569.1000000000001,938L1569.1000000000001,998M1573.3,938L1573.3,998" stroke="#e8e8e8" stroke-width="1.3"/>
<path d="M1565.4,1043.1 a5.8,5.8 0 0 1 11.6,0 L1577.0,1106.5 a5.8,5.8 0 0 1 -11.6,0 Z" stroke-width="0.88" fill="#1d1d1b" />
<path d="M1569.1000000000001,1044.3L1569.1000000000001,1105.3M1573.3,1044.3L1573.3,1105.3" stroke="#e8e8e8" stroke-width="1.3"/>
<path d="M1565.4,1149.3 a5.8,5.8 0 0 1 11.6,0 L1577.0,1212.9 a5.8,5.8 0 0 1 -11.6,0 Z" stroke-width="0.88" fill="#1d1d1b" />
<path d="M1569.1000000000001,1150.5L1569.1000000000001,1211.7M1573.3,1150.5L1573.3,1211.7" stroke="#e8e8e8" stroke-width="1.3"/>
<path d="M1565.4,1254.2 a5.8,5.8 0 0 1 11.6,0 L1577.0,1280.2 a5.8,5.8 0 0 1 -11.6,0 Z" stroke-width="0.88" fill="#1d1d1b" />
<path d="M1569.1000000000001,1255.4L1569.1000000000001,1279M1573.3,1255.4L1573.3,1279" stroke="#e8e8e8" stroke-width="1.3"/>
<path d="M971.2,706.6 L958,706 L958,722 L952,725.5 L921,730.4 L921,748 L960,748 L960,819 L923,819.5 L950,827.7 Q957,830 957,838 L957,1356 L953.5,1358.7 L921.2,1369 L921.2,1387.2 L962,1384 L962,1452 L925,1457 L956.1,1470 L956.1,1488 L974.2,1490.7 L976.4,1490 L976.4,706 Z" stroke-width="0.0" fill="#fff" />
<path d="M971.2,706.6 L958,706 L958,721 Q957,724.5 952,725.5 L921,730.4 L921,750" stroke-width="2.42" fill="none" />
<path d="M923,819.5 L948,827 Q957,830 957,840 L957,1354 Q957,1358 953.5,1358.7 L921.2,1369 L921.2,1388" stroke-width="3.08" fill="none" />
<path d="M925,1457 L956.1,1470 L956.1,1486 Q956.5,1489.5 961,1489.5 L974.2,1490.7" stroke-width="2.42" fill="none" />
<path d="M971.2,706.6L971.2,1490.0" stroke-width="2.75" />
<g transform="translate(0,0)">
<path d="M925,759 L906.4,756.3 C895,758 887.4,771 887.4,786.3 C887.4,802 895,815.5 906.4,817.4 L925,814.6 Z" stroke-width="2.75" fill="#fff" />
<path d="M926,761 L934.2,745 L961,748.3 L960.2,752 Z" stroke-width="2.75" fill="#fff" />
<path d="M924,759.4 L960.2,748.6 L960.2,807 L925,814.3 Z" stroke-width="2.75" fill="#fff" />
<path d="M929.2,762.5 L960.2,752.5" stroke-width="1.98" fill="none" />
<path d="M923,760.5 C914,763 908.5,774 908.5,787.5 C908.5,801 914,812.5 923,815.3" stroke-width="2.2" fill="none" />
<path d="M926,765.6 C919,768 913.7,777 913.7,790 C913.7,803 919,812.5 926,815.3 Z" stroke-width="2.2" fill="none" />
<path d="M933,812 L958,806.5" stroke-width="1.76" fill="none" />
</g>
<g transform="translate(0.8,640)">
<path d="M925,759 L906.4,756.3 C895,758 887.4,771 887.4,786.3 C887.4,802 895,815.5 906.4,817.4 L925,814.6 Z" stroke-width="2.75" fill="#fff" />
<path d="M926,761 L934.2,745 L961,748.3 L960.2,752 Z" stroke-width="2.75" fill="#fff" />
<path d="M924,759.4 L960.2,748.6 L960.2,807 L925,814.3 Z" stroke-width="2.75" fill="#fff" />
<path d="M929.2,762.5 L960.2,752.5" stroke-width="1.98" fill="none" />
<path d="M923,760.5 C914,763 908.5,774 908.5,787.5 C908.5,801 914,812.5 923,815.3" stroke-width="2.2" fill="none" />
<path d="M926,765.6 C919,768 913.7,777 913.7,790 C913.7,803 919,812.5 926,815.3 Z" stroke-width="2.2" fill="none" />
<path d="M933,812 L958,806.5" stroke-width="1.76" fill="none" />
</g>
<path d="M976.4,1483 L976.4,703 C976.4,684 983,670.5 991.4,670.5 C1000,670.5 1007,683 1007,697 L1007,1483 C1007,1502 1000,1515.3 990.5,1515.3 C982,1515.3 976.4,1502 976.4,1483 Z" stroke-width="2.86" fill="#fff" />
<path d="M1008.6,690.0L1008.6,1480.0" stroke-width="1.54" />
<path d="M971.2,707 C973,688 981,671.5 991.4,670.5" stroke-width="2.86" fill="none" />
<path d="M971.2,1490 C972,1503 979,1514 989,1515.3" stroke-width="2.2" fill="none" />
<ellipse cx="991.3" cy="714.5" rx="4.1" ry="8.2" stroke-width="2.86" fill="none" transform="rotate(8 991.3 714.5)"/>
<path d="M988,721.0 q3.4,2 6,-3.4" stroke-width="2.64" fill="none" />
<ellipse cx="991.3" cy="743.0" rx="4.1" ry="8.2" stroke-width="2.86" fill="none" transform="rotate(8 991.3 743)"/>
<ellipse cx="991.0" cy="740.6" rx="2.7" ry="4.5" stroke-width="1.1" fill="#1d1d1b" transform="rotate(8 991 740.6)"/>
<path d="M988,749.5 q3.4,2 6,-3.4" stroke-width="2.64" fill="none" />
<ellipse cx="991.3" cy="771.5" rx="4.1" ry="8.2" stroke-width="2.86" fill="none" transform="rotate(8 991.3 771.5)"/>
<path d="M988,778.0 q3.4,2 6,-3.4" stroke-width="2.64" fill="none" />
<ellipse cx="991.3" cy="800.0" rx="4.1" ry="8.2" stroke-width="2.86" fill="none" transform="rotate(8 991.3 800)"/>
<ellipse cx="991.0" cy="797.6" rx="2.7" ry="4.5" stroke-width="1.1" fill="#1d1d1b" transform="rotate(8 991 797.6)"/>
<path d="M988,806.5 q3.4,2 6,-3.4" stroke-width="2.64" fill="none" />
<ellipse cx="991.2" cy="827.7" rx="4.8" ry="8.5" stroke-width="1.65" fill="#1d1d1b" transform="rotate(4 991.2 827.7)"/>
<ellipse cx="991.2" cy="856.7" rx="4.8" ry="8.5" stroke-width="1.65" fill="#1d1d1b" transform="rotate(4 991.2 856.7)"/>
<ellipse cx="991.2" cy="885.3" rx="4.8" ry="8.5" stroke-width="1.65" fill="#1d1d1b" transform="rotate(4 991.2 885.3)"/>
<ellipse cx="991.2" cy="913.7" rx="4.8" ry="8.5" stroke-width="1.65" fill="#1d1d1b" transform="rotate(4 991.2 913.7)"/>
<ellipse cx="991.2" cy="941.7" rx="4.8" ry="8.5" stroke-width="1.65" fill="#1d1d1b" transform="rotate(4 991.2 941.7)"/>
<ellipse cx="991.2" cy="970.2" rx="4.8" ry="8.5" stroke-width="1.65" fill="#1d1d1b" transform="rotate(4 991.2 970.2)"/>
<ellipse cx="991.2" cy="998.6" rx="4.8" ry="8.5" stroke-width="1.65" fill="#1d1d1b" transform="rotate(4 991.2 998.6)"/>
<ellipse cx="991.2" cy="1093.0" rx="4.8" ry="8.5" stroke-width="1.65" fill="#1d1d1b" transform="rotate(4 991.2 1093)"/>
<path d="M991.4,1044.5 l6,9.5 l-3.2,0 l0,11 l-5.6,0 l0,-11 l-3.2,0 Z" stroke-width="1.76" fill="#1d1d1b" />
<path d="M991.4,1049.5 l-1.6,4.5 l3,0 Z" fill="#fff" stroke="none"/>
<path d="M985.1,1144.8 a6.1,6.1 0 0 1 12.2,0 L997.3000000000001,1208.2 a6.1,6.1 0 0 1 -12.2,0 Z" stroke-width="0.88" fill="#1d1d1b" />
<path d="M989.1,1145.7L989.1,1207.3M993.3000000000001,1145.7L993.3000000000001,1207.3" stroke="#e8e8e8" stroke-width="1.3"/>
<path d="M985.1,1251.3999999999999 a6.1,6.1 0 0 1 12.2,0 L997.3000000000001,1314.9 a6.1,6.1 0 0 1 -12.2,0 Z" stroke-width="0.88" fill="#1d1d1b" />
<path d="M989.1,1252.3L989.1,1314M993.3000000000001,1252.3L993.3000000000001,1314" stroke="#e8e8e8" stroke-width="1.3"/>
<path d="M985.1,1358.3 a6.1,6.1 0 0 1 12.2,0 L997.3000000000001,1419.9 a6.1,6.1 0 0 1 -12.2,0 Z" stroke-width="0.88" fill="#1d1d1b" />
<path d="M989.1,1359.2L989.1,1419M993.3000000000001,1359.2L993.3000000000001,1419" stroke="#e8e8e8" stroke-width="1.3"/>
<path d="M985.1,1463.1 a6.1,6.1 0 0 1 12.2,0 L997.3000000000001,1487.2 a6.1,6.1 0 0 1 -12.2,0 Z" stroke-width="0.88" fill="#1d1d1b" />
<path d="M989.1,1464L989.1,1486.3M993.3000000000001,1464L993.3000000000001,1486.3" stroke="#e8e8e8" stroke-width="1.3"/>
</g>
<g id="dims">
<path d="M205.0,558.0L205.0,690.0" stroke-width="2.53" />
<path d="M205.0,571.0L764.0,371.0" stroke-width="2.53" />
<path d="M764.4,273.0L764.4,500.0" stroke-width="2.53" />
<path d="M764.4,284.5L1571.3,411.8" stroke-width="2.53" />
<path d="M1571.5,400.0L1571.5,503.0" stroke-width="2.53" />
<path d="M63.4,694.0L63.4,1402.0" stroke-width="2.53" />
<path d="M51.8,697.4L233.0,632.5" stroke-width="2.53" />
<path d="M51.8,1405.0L261.4,1330.8" stroke-width="2.53" />
<path d="M1571.0,461.7L1811.3,375.8" stroke-width="2.53" />
<path d="M1800.2,381.0L1796.8,1223.5" stroke-width="2.53" />
<path d="M1575.2,1306.3L1807.5,1220.4" stroke-width="2.53" />
<path d="M1575.0,503.0L1715.6,452.7" stroke-width="2.53" />
<path d="M1705.2,456.6L1703.2,1225.6" stroke-width="2.53" />
<path d="M1575.2,1274.2L1714.0,1222.9" stroke-width="2.53" />
<path d="M889.8,1449.3L889.8,1730.0" stroke-width="2.53" />
<path d="M889.8,1718.5L1616.5,1458.5" stroke-width="2.53" />
<path d="M1616.6,1181.0L1616.6,1468.8" stroke-width="2.53" />
<path d="M990.5,1579.2L1570.5,1371.1" stroke-width="2.53" />
<path d="M990.5,1571.0L990.5,1590.3" stroke-width="2.53" />
<path d="M1571.1,1363.3L1571.1,1380.8" stroke-width="2.53" />
<path d="M990.5,1475.0L990.5,1521.5" stroke-width="1.98" />
<path d="M1571.1,1275.0L1571.1,1307.0" stroke-width="1.98" />
<path d="M1571.1,1313.0L1571.1,1323.0" stroke-width="1.98" />
</g>
</svg>
</body></html>
